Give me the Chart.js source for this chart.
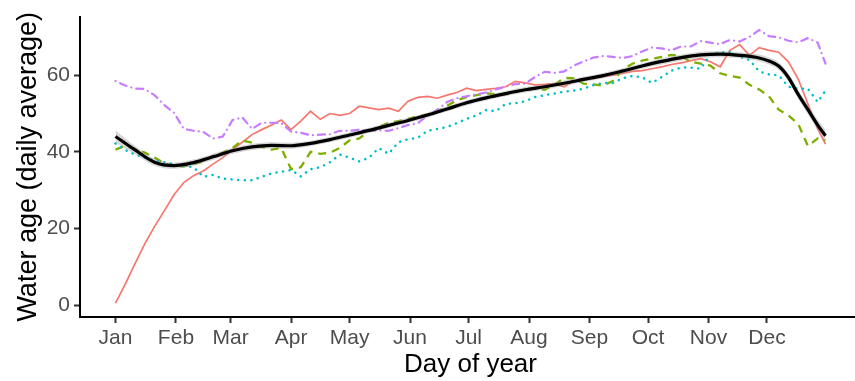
<!DOCTYPE html>
<html>
<head>
<meta charset="utf-8">
<script src="https://cdn.jsdelivr.net/npm/chart.js@4.4.1/dist/chart.umd.min.js"></script>
<style>
  html, body { margin: 0; padding: 0; background: #fff; overflow: hidden; }
  #wrap { width: 861px; height: 381px; }
</style>
</head>
<body>
<div id="wrap"><canvas id="ageChart" width="861" height="381"></canvas></div>
<script>
// day-of-year grid the four series were read at
const dayGrid = [1, 6, 11, 16, 21, 26, 31, 36, 41, 46, 51, 56, 61, 66, 71, 76, 81, 86, 91, 96,
  101, 106, 111, 116, 121, 126, 131, 136, 141, 146, 151, 156, 161, 166, 171, 176, 181, 186, 191, 196,
  201, 206, 211, 216, 221, 226, 231, 236, 241, 246, 251, 256, 261, 266, 271, 276, 281, 286, 291, 296,
  301, 306, 311, 316, 321, 326, 331, 336, 341, 346, 351, 356, 361, 365];

const redValues = [0.5, 5.5, 10.8, 16, 20.5, 24.6, 28.8, 32, 33.8, 35, 36.8, 38.5, 40.6, 42.5, 44.5, 45.8, 47, 48.3, 45.8, 48,
  50.6, 48.5, 50, 49.5, 50, 51.9, 51.5, 51, 51.4, 50.6, 53.2, 54.2, 54.5, 54, 54.8, 55.5, 56.6, 56, 56.3, 56.6,
  57, 58.4, 58, 57.5, 57.6, 57.8, 57, 58.5, 59.2, 59.1, 59.6, 60, 60.5, 61, 61.2, 61.7, 62.2, 62.8, 63.2, 63.8,
  64.3, 63.5, 62.2, 66.5, 68, 65.2, 67.2, 66.5, 66, 63.5, 59, 52.5, 46, 42];

const greenValues = [40.6, 41.6, 40.8, 39.8, 38.5, 37, 36.3, 36.2, 36.8, 37.5, 39, 39.8, 41, 43, 42.4, 41.3, 40.6, 41, 35.5, 36,
  40, 39.5, 39.8, 41, 43, 43.5, 45.5, 46.5, 47.6, 48, 48.6, 49.3, 49.8, 50.5, 52, 53.5, 54.3, 54.8, 55.3, 55,
  55, 55.5, 56.5, 56.5, 56.2, 57.5, 59.3, 59.2, 57.8, 57.6, 57.3, 58.5, 61.5, 63, 63.8, 64.3, 64.8, 65.3, 65, 63.5,
  63, 62.5, 60.5, 59.8, 59.4, 57.5, 56.3, 54.5, 51, 49.5, 47.3, 41.5, 43.5, 43];

const cyanValues = [42.2, 40.5, 39.3, 38.5, 37.8, 37.3, 36.8, 36.3, 36, 33.5, 34, 33, 32.8, 32.6, 32.6, 33.5, 34.4, 34.8, 35.3, 33.6,
  35.5, 36, 37.3, 39.3, 38.5, 37.5, 38.5, 41, 39.5, 42.5, 43.3, 43.7, 45.5, 46, 46.5, 47.5, 48.6, 49.5, 50.9, 50.6,
  52.5, 52.7, 53.2, 54.3, 54.8, 55.2, 55.7, 56, 56.5, 57.4, 58, 58, 59.2, 59.8, 59.5, 58, 59.5, 61.2, 62, 62,
  61.7, 65.5, 66, 66, 64.8, 64, 61, 60.2, 60, 57, 56.5, 56.5, 53, 56];

const purpleValues = [58.5, 57.3, 56.5, 56.4, 54.8, 52.2, 50.2, 46, 45.5, 45.2, 43.5, 44, 48.3, 49, 46, 47.6, 47.6, 47.5, 45.3, 45,
  44.3, 44.5, 44.6, 45.5, 45.5, 45.8, 45.5, 45.6, 45.5, 46.2, 47, 47.5, 49.5, 51, 53, 54, 54.5, 55, 55.5, 56.3,
  57, 57.7, 57.8, 59.5, 60.9, 60.6, 61, 62.5, 63.6, 64.6, 65, 64.8, 64.5, 65, 66.2, 67.2, 67, 66.5, 67.5, 67.5,
  68.9, 68.5, 68.1, 69.2, 68.8, 70, 71.8, 70.2, 69.9, 69, 68.6, 69.7, 68.5, 63];

// smoothed fit and its standard error
const smoothDays = [1, 11, 21, 31, 41, 51, 61, 71, 81, 91, 101, 111, 121, 131, 141, 151, 161, 171, 181, 191,
  201, 211, 221, 231, 241, 251, 261, 271, 281, 291, 301, 311, 321, 331, 336, 341, 346, 351, 356, 361, 365];
const smoothValues = [44, 40.5, 37.3, 36.4, 37.2, 38.7, 40.3, 41.3, 41.7, 41.6, 42.2, 43.2, 44.4, 45.6, 46.9, 48.2, 49.6, 51.2, 52.8, 54.1,
  55.2, 56.2, 57, 57.9, 58.9, 59.9, 61.1, 62.4, 63.6, 64.6, 65.3, 65.5, 65.2, 64.5, 63.7, 62.4, 59.4, 55, 51, 47, 44.2];
const smoothSE = [1.6, 1.1, 0.9, 0.8, 0.8, 0.8, 0.8, 0.8, 0.8, 0.8, 0.7, 0.7, 0.7, 0.7, 0.7, 0.7, 0.7, 0.7, 0.7, 0.7,
  0.7, 0.7, 0.7, 0.7, 0.7, 0.7, 0.7, 0.7, 0.8, 0.8, 0.8, 0.8, 0.8, 0.9, 0.9, 1.0, 1.0, 1.1, 1.2, 1.4, 1.6];

const monthDays = [1, 32, 60, 91, 121, 152, 182, 213, 244, 274, 305, 335];
const monthLabels = ["Jan", "Feb", "Mar", "Apr", "May", "Jun", "Jul", "Aug", "Sep", "Oct", "Nov", "Dec"];
const yTicks = [0, 20, 40, 60];

const FONT = "'Liberation Sans', Arial, Helvetica, sans-serif";

function toPoints(days, values) {
  return days.map((day, index) => ({ x: day, y: values[index] }));
}

function lineSeries(values, color, dash, width, cap) {
  return {
    data: toPoints(dayGrid, values),
    borderColor: color,
    borderWidth: width,
    borderDash: dash,
    borderCapStyle: cap,
    pointRadius: 0,
    tension: 0,
    fill: false
  };
}

const upper = smoothValues.map((value, index) => value + smoothSE[index]);
const lower = smoothValues.map((value, index) => value - smoothSE[index]);

const datasets = [
  {
    data: toPoints(smoothDays, smoothValues),
    borderColor: "#000000",
    borderWidth: 3.2,
    pointRadius: 0,
    cubicInterpolationMode: "monotone",
    fill: false
  },
  {
    data: toPoints(smoothDays, upper),
    borderWidth: 0,
    borderColor: "rgba(0,0,0,0)",
    backgroundColor: "rgba(153,153,153,0.4)",
    pointRadius: 0,
    cubicInterpolationMode: "monotone",
    fill: "+1"
  },
  {
    data: toPoints(smoothDays, lower),
    borderWidth: 0,
    borderColor: "rgba(0,0,0,0)",
    pointRadius: 0,
    cubicInterpolationMode: "monotone",
    fill: false
  },
  lineSeries(purpleValues, "#C77CFF", [0.1, 5, 7, 5], 2.2, "round"),
  lineSeries(cyanValues, "#00BFC4", [0.1, 6.5], 2.5, "round"),
  lineSeries(greenValues, "#7CAE00", [8, 6], 2.3, "butt"),
  lineSeries(redValues, "#F8766D", [], 1.7, "butt")
];

new Chart(document.getElementById("ageChart"), {
  type: "line",
  data: { datasets },
  options: {
    responsive: false,
    animation: false,
    layout: { padding: { top: 12, right: 0, bottom: 0, left: 0 } },
    plugins: {
      legend: { display: false },
      tooltip: { enabled: false }
    },
    scales: {
      x: {
        type: "linear",
        min: -17.2,
        max: 383.2,
        afterBuildTicks(scale) {
          scale.ticks = monthDays.map((value) => ({ value }));
        },
        afterFit(scale) {
          scale.height = 64;
        },
        ticks: {
          autoSkip: false,
          maxRotation: 0,
          padding: 3,
          color: "#4D4D4D",
          font: { family: FONT, size: 21 },
          callback: (value) => monthLabels[monthDays.indexOf(value)]
        },
        grid: {
          drawOnChartArea: false,
          drawTicks: true,
          tickLength: 6,
          tickColor: "#333333",
          tickWidth: 2
        },
        border: { display: true, color: "#000000", width: 2 },
        title: {
          display: true,
          text: "Day of year",
          color: "#000000",
          font: { family: FONT, size: 26 },
          padding: { top: 0, bottom: 1 }
        }
      },
      y: {
        type: "linear",
        min: -3.1,
        max: 75.3,
        afterBuildTicks(scale) {
          scale.ticks = yTicks.map((value) => ({ value }));
        },
        afterFit(scale) {
          scale.width = 80;
        },
        ticks: {
          padding: 4,
          color: "#4D4D4D",
          font: { family: FONT, size: 21 }
        },
        grid: {
          drawOnChartArea: false,
          drawTicks: true,
          tickLength: 6,
          tickColor: "#333333",
          tickWidth: 2
        },
        border: { display: true, color: "#000000", width: 2 },
        title: {
          display: true,
          text: "Water age (daily average)",
          color: "#000000",
          font: { family: FONT, size: 27 },
          padding: { top: 12, bottom: 0 }
        }
      }
    }
  }
});
</script>
</body>
</html>
